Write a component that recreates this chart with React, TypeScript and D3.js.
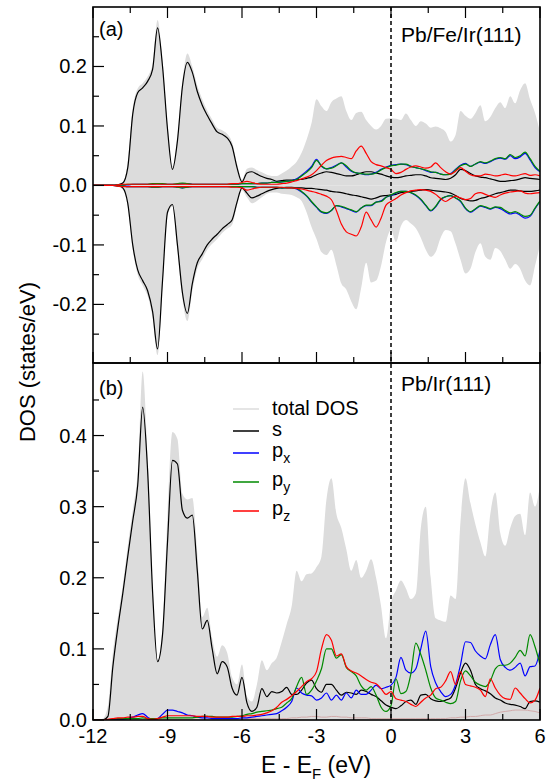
import React, { useEffect, useRef } from 'react';
import * as d3 from 'd3';

// energy grid (eV), 0.2 eV steps from -12 to 6
const energy = d3.range(91).map(i => -12 + 0.2 * i);

// ---- panel (a) Pb/Fe/Ir(111): spin up (positive) / spin down (negative)
const totUpA = [0,0,0,0,0, 0.002,0.006,0.04,0.13,0.163, 0.172,0.183,0.205,0.278,0.21, 0.102,0.032,0.082,0.175,0.222,
  0.2,0.168,0.145,0.126,0.111, 0.097,0.093,0.087,0.073,0.037, 0.01,0.028,0.03,0.026,0.022, 0.018,0.016,0.016,0.02,0.025,
  0.032,0.04,0.055,0.077,0.105, 0.145,0.133,0.125,0.14,0.146, 0.15,0.125,0.11,0.122,0.124, 0.11,0.1,0.094,0.1,0.112,
  0.113,0.112,0.11,0.121,0.11, 0.1,0.108,0.104,0.097,0.099, 0.096,0.09,0.074,0.085,0.125, 0.117,0.112,0.122,0.135,0.108,
  0.115,0.13,0.14,0.13,0.15, 0.138,0.16,0.172,0.145,0.122, 0.09];
const totDnA = [0,0,0,0,0, -0.002,-0.007,-0.036,-0.108,-0.15, -0.168,-0.186,-0.222,-0.285,-0.168, -0.05,-0.036,-0.108,-0.19,-0.228,
  -0.177,-0.14,-0.124,-0.108,-0.098, -0.09,-0.08,-0.073,-0.066,-0.034, -0.008,-0.02,-0.03,-0.026,-0.02, -0.014,-0.012,-0.012,-0.014,-0.015,
  -0.016,-0.02,-0.026,-0.045,-0.07, -0.09,-0.112,-0.117,-0.108,-0.134, -0.165,-0.175,-0.195,-0.208,-0.172, -0.13,-0.163,-0.16,-0.135,-0.095,
  -0.075,-0.095,-0.068,-0.058,-0.064, -0.072,-0.088,-0.108,-0.12,-0.112, -0.088,-0.075,-0.077,-0.098,-0.125, -0.148,-0.14,-0.112,-0.097,-0.12,
  -0.125,-0.105,-0.11,-0.125,-0.14, -0.132,-0.14,-0.16,-0.168,-0.135, -0.1];
const sUpA = [0,0,0,0,0, 0.001,0.004,0.03,0.12,0.156, 0.164,0.175,0.195,0.265,0.2, 0.095,0.027,0.075,0.166,0.207,
  0.19,0.158,0.135,0.118,0.103, 0.09,0.086,0.08,0.066,0.03, 0.006,0.021,0.023,0.019,0.015, 0.012,0.01,0.007,0.008,0.009,
  0.009,0.01,0.01,0.012,0.014, 0.018,0.021,0.023,0.022,0.02, 0.018,0.016,0.016,0.018,0.021, 0.023,0.023,0.021,0.019,0.016,
  0.014,0.013,0.014,0.016,0.017, 0.018,0.018,0.016,0.013,0.012, 0.011,0.01,0.012,0.018,0.027, 0.025,0.02,0.016,0.014,0.013,
  0.011,0.009,0.007,0.007,0.008, 0.009,0.011,0.013,0.012,0.011, 0.01];
const sDnA = [0,0,0,0,0, 0,-0.004,-0.03,-0.1,-0.142, -0.16,-0.177,-0.212,-0.275,-0.16, -0.045,-0.032,-0.1,-0.18,-0.215,
  -0.165,-0.13,-0.115,-0.1,-0.09, -0.082,-0.073,-0.066,-0.058,-0.028, -0.004,-0.013,-0.021,-0.018,-0.014, -0.01,-0.007,-0.005,-0.004,-0.003,
  -0.003,-0.004,-0.004,-0.005,-0.005, -0.006,-0.007,-0.008,-0.01,-0.011, -0.012,-0.014,-0.016,-0.017,-0.019, -0.021,-0.023,-0.021,-0.018,-0.017,
  -0.016,-0.015,-0.012,-0.011,-0.01, -0.009,-0.008,-0.007,-0.008,-0.009, -0.01,-0.011,-0.013,-0.017,-0.022, -0.024,-0.026,-0.025,-0.022,-0.02,
  -0.017,-0.014,-0.012,-0.01,-0.008, -0.008,-0.009,-0.01,-0.01,-0.009, -0.008];
const pxUpA = [0,0,0,0,0, 0.001,0.001,0.001,0.002,0.002, 0.002,0.002,0.002,0.003,0.002, 0.002,0.002,0.002,0.003,0.003,
  0.002,0.002,0.002,0.002,0.002, 0.002,0.002,0.002,0.002,0.002, 0.003,0.003,0.003,0.003,0.004, 0.004,0.005,0.005,0.006,0.007,
  0.008,0.011,0.017,0.024,0.032, 0.044,0.032,0.028,0.03,0.034, 0.038,0.031,0.024,0.021,0.02, 0.018,0.019,0.022,0.027,0.031,
  0.034,0.035,0.036,0.035,0.032, 0.03,0.028,0.025,0.022,0.022, 0.019,0.018,0.02,0.027,0.034, 0.037,0.032,0.036,0.039,0.037,
  0.04,0.044,0.046,0.044,0.05, 0.045,0.048,0.054,0.043,0.03, 0.023];
const pyUpA = [0,0,0,0,0, 0.001,0.001,0.002,0.002,0.002, 0.002,0.002,0.003,0.003,0.003, 0.002,0.002,0.003,0.004,0.003,
  0.002,0.002,0.002,0.002,0.002, 0.002,0.002,0.002,0.002,0.002, 0.003,0.003,0.003,0.003,0.004, 0.004,0.005,0.005,0.006,0.007,
  0.008,0.01,0.016,0.022,0.03, 0.042,0.033,0.028,0.029,0.033, 0.038,0.033,0.025,0.021,0.02, 0.019,0.019,0.021,0.026,0.03,
  0.033,0.034,0.036,0.036,0.032, 0.03,0.028,0.026,0.023,0.022, 0.019,0.018,0.019,0.026,0.033, 0.036,0.032,0.036,0.04,0.038,
  0.041,0.045,0.047,0.045,0.052, 0.047,0.05,0.056,0.045,0.032, 0.024];
const pzUpA = [0,0,0,0,0, 0.001,0.002,0.002,0.002,0.002, 0.002,0.002,0.002,0.002,0.002, 0.002,0.002,0.002,0.002,0.002,
  0.002,0.002,0.002,0.002,0.002, 0.002,0.002,0.002,0.003,0.003, 0.005,0.007,0.005,0.003,0.002, 0.002,0.002,0.002,0.003,0.004,
  0.006,0.008,0.011,0.014,0.018, 0.025,0.034,0.042,0.046,0.048, 0.049,0.047,0.045,0.058,0.066, 0.054,0.04,0.035,0.033,0.03,
  0.027,0.02,0.022,0.027,0.031, 0.033,0.031,0.029,0.031,0.038, 0.03,0.023,0.019,0.024,0.03, 0.024,0.018,0.016,0.016,0.019,
  0.018,0.016,0.017,0.019,0.017, 0.016,0.018,0.02,0.017,0.018, 0.016];
const pxDnA = [0,0,0,0,0, -0.001,-0.001,-0.002,-0.002,-0.002, -0.002,-0.002,-0.003,-0.003,-0.002, -0.002,-0.002,-0.003,-0.004,-0.003,
  -0.002,-0.002,-0.002,-0.002,-0.002, -0.002,-0.002,-0.002,-0.002,-0.002, -0.002,-0.002,-0.002,-0.003,-0.003, -0.003,-0.003,-0.003,-0.004,-0.004,
  -0.004,-0.006,-0.011,-0.018,-0.028, -0.037,-0.045,-0.047,-0.042,-0.034, -0.036,-0.039,-0.042,-0.045,-0.038, -0.034,-0.034,-0.028,-0.026,-0.02,
  -0.017,-0.013,-0.01,-0.01,-0.012, -0.017,-0.024,-0.034,-0.043,-0.036, -0.024,-0.019,-0.017,-0.021,-0.027, -0.039,-0.045,-0.04,-0.035,-0.037,
  -0.04,-0.037,-0.039,-0.044,-0.048, -0.046,-0.05,-0.055,-0.052,-0.039, -0.027];
const pyDnA = [0,0,0,0,0, -0.001,-0.001,-0.002,-0.002,-0.002, -0.002,-0.002,-0.003,-0.003,-0.002, -0.002,-0.002,-0.003,-0.004,-0.003,
  -0.002,-0.002,-0.002,-0.002,-0.002, -0.002,-0.002,-0.002,-0.002,-0.002, -0.002,-0.002,-0.002,-0.003,-0.003, -0.003,-0.003,-0.003,-0.004,-0.004,
  -0.004,-0.005,-0.01,-0.017,-0.027, -0.036,-0.044,-0.046,-0.042,-0.034, -0.035,-0.038,-0.041,-0.044,-0.038, -0.033,-0.033,-0.028,-0.027,-0.02,
  -0.016,-0.012,-0.01,-0.01,-0.012, -0.016,-0.023,-0.033,-0.042,-0.035, -0.023,-0.019,-0.017,-0.021,-0.026, -0.038,-0.044,-0.039,-0.034,-0.036,
  -0.039,-0.036,-0.037,-0.042,-0.046, -0.044,-0.048,-0.052,-0.05,-0.038, -0.026];
const pzDnA = [0,0,0,0,0, -0.001,-0.002,-0.002,-0.002,-0.002, -0.002,-0.002,-0.002,-0.002,-0.002, -0.002,-0.002,-0.002,-0.002,-0.002,
  -0.002,-0.002,-0.002,-0.002,-0.002, -0.002,-0.002,-0.002,-0.003,-0.003, -0.004,-0.008,-0.006,-0.004,-0.003, -0.003,-0.003,-0.003,-0.003,-0.004,
  -0.004,-0.005,-0.006,-0.008,-0.01, -0.012,-0.015,-0.018,-0.024,-0.042, -0.065,-0.078,-0.082,-0.085,-0.07, -0.045,-0.058,-0.07,-0.055,-0.033,
  -0.027,-0.022,-0.016,-0.012,-0.009, -0.008,-0.007,-0.008,-0.01,-0.015, -0.022,-0.027,-0.022,-0.018,-0.021, -0.024,-0.022,-0.014,-0.012,-0.015,
  -0.018,-0.02,-0.016,-0.013,-0.011, -0.01,-0.009,-0.013,-0.014,-0.013, -0.012];

// ---- panel (b) Pb/Ir(111)
const totB = [0,0,0.002,0.02,0.095, 0.145,0.19,0.245,0.295,0.35, 0.49,0.37,0.19,0.085,0.13, 0.29,0.405,0.395,0.318,0.31,
  0.312,0.235,0.145,0.158,0.115, 0.089,0.105,0.095,0.06,0.05, 0.078,0.033,0.026,0.05,0.084, 0.07,0.08,0.088,0.11,0.135,
  0.16,0.21,0.195,0.205,0.206, 0.215,0.23,0.31,0.34,0.29, 0.27,0.24,0.21,0.225,0.2, 0.21,0.226,0.2,0.16,0.115,
  0.165,0.182,0.196,0.185,0.17, 0.178,0.27,0.3,0.2,0.143, 0.14,0.138,0.175,0.17,0.28, 0.34,0.305,0.275,0.25,0.23,
  0.29,0.32,0.263,0.245,0.27, 0.287,0.29,0.26,0.32,0.3, 0.33];
const sB = [0,0,0,0.005,0.075, 0.13,0.178,0.23,0.28,0.33, 0.44,0.35,0.18,0.082,0.12, 0.25,0.365,0.36,0.295,0.284,
  0.288,0.21,0.128,0.14,0.1, 0.065,0.082,0.075,0.045,0.035, 0.06,0.024,0.012,0.018,0.044, 0.033,0.04,0.038,0.04,0.046,
  0.036,0.036,0.042,0.052,0.056, 0.044,0.039,0.05,0.05,0.042, 0.035,0.039,0.038,0.036,0.042, 0.04,0.036,0.033,0.027,0.021,
  0.018,0.016,0.02,0.026,0.028, 0.022,0.035,0.036,0.03,0.027, 0.026,0.028,0.031,0.045,0.066, 0.08,0.07,0.05,0.044,0.041,
  0.037,0.031,0.028,0.024,0.022, 0.021,0.019,0.016,0.026,0.027, 0.025];
const pxB = [0,0,0,0,0.001, 0.001,0.001,0.002,0.004,0.007, 0.009,0.004,0.001,0.002,0.008, 0.014,0.014,0.012,0.01,0.007,
  0.006,0.004,0.003,0.003,0.002, 0.002,0.002,0.002,0.002,0.002, 0.003,0.003,0.004,0.005,0.006, 0.007,0.008,0.009,0.013,0.018,
  0.026,0.045,0.038,0.035,0.034, 0.028,0.031,0.038,0.028,0.035, 0.028,0.038,0.031,0.042,0.036, 0.036,0.042,0.049,0.044,0.046,
  0.049,0.06,0.088,0.07,0.066, 0.072,0.1,0.125,0.075,0.052, 0.04,0.033,0.036,0.05,0.078, 0.11,0.109,0.097,0.09,0.086,
  0.106,0.12,0.085,0.074,0.07, 0.074,0.08,0.062,0.075,0.076, 0.098];
const pyB = [0,0,0,0,0.001, 0.002,0.002,0.002,0.002,0.002, 0.003,0.002,0.002,0.002,0.003, 0.003,0.003,0.003,0.003,0.003,
  0.003,0.004,0.005,0.005,0.005, 0.004,0.004,0.004,0.004,0.005, 0.006,0.008,0.009,0.011,0.012, 0.013,0.014,0.016,0.018,0.024,
  0.03,0.047,0.06,0.036,0.042, 0.055,0.072,0.1,0.1,0.087, 0.092,0.074,0.068,0.062,0.048, 0.042,0.047,0.035,0.018,0.012,
  0.02,0.058,0.037,0.04,0.065, 0.108,0.092,0.07,0.045,0.031, 0.028,0.025,0.023,0.026,0.055, 0.069,0.062,0.053,0.049,0.047,
  0.055,0.072,0.077,0.077,0.08, 0.088,0.098,0.09,0.12,0.103, 0.078];
const pzB = [0,0,0,0.001,0.002, 0.003,0.003,0.004,0.004,0.005, 0.005,0.002,0.001,0.002,0.004, 0.006,0.006,0.006,0.006,0.006,
  0.006,0.005,0.005,0.005,0.004, 0.004,0.004,0.004,0.005,0.005, 0.005,0.006,0.006,0.007,0.008, 0.01,0.013,0.018,0.025,0.029,
  0.034,0.04,0.047,0.054,0.058, 0.068,0.1,0.12,0.112,0.09, 0.093,0.075,0.069,0.066,0.062, 0.057,0.053,0.051,0.044,0.036,
  0.04,0.03,0.028,0.026,0.022, 0.019,0.025,0.031,0.035,0.044, 0.046,0.055,0.068,0.05,0.068, 0.05,0.048,0.046,0.042,0.033,
  0.058,0.045,0.035,0.03,0.029, 0.045,0.038,0.03,0.024,0.028, 0.045];
const faintB = [0,0,0,0,0, 0,0,0,0,0, 0.001,0.001,0.001,0.001,0.001, 0.001,0.001,0.001,0.001,0.001,
  0.001,0.001,0.001,0.001,0.001, 0.001,0.001,0.001,0.001,0.001, 0.002,0.002,0.002,0.002,0.002, 0.002,0.002,0.002,0.002,0.002,
  0.003,0.003,0.004,0.004,0.005, 0.005,0.004,0.004,0.005,0.005, 0.004,0.004,0.003,0.003,0.003, 0.003,0.002,0.002,0.002,0.002,
  0.002,0.002,0.002,0.002,0.002, 0.002,0.002,0.002,0.002,0.002, 0.002,0.002,0.003,0.003,0.004, 0.004,0.005,0.005,0.006,0.007,
  0.007,0.009,0.011,0.012,0.013, 0.014,0.014,0.014,0.013,0.012, 0.01];

// ticks
const xMajor = [-12, -9, -6, -3, 0, 3, 6];
const xMajorLabels = ['-12', '-9', '-6', '-3', '0', '3', '6'];
const xMinor = [-10.5, -7.5, -4.5, -1.5, 1.5, 4.5];
const yMajorA = [-0.2, -0.1, 0, 0.1, 0.2];
const yMajorALabels = ['-0.2', '-0.1', '0.0', '0.1', '0.2'];
const yMinorA = [-0.25, -0.15, -0.05, 0.05, 0.15, 0.25];
const yMajorB = [0, 0.1, 0.2, 0.3, 0.4];
const yMajorBLabels = ['0.0', '0.1', '0.2', '0.3', '0.4'];
const yMinorB = [0.05, 0.15, 0.25, 0.35, 0.45];

const legendNames = ['total DOS', 's', 'p', 'p', 'p'];
const legendSubs = ['', '', 'x', 'y', 'z'];

const FONT = '"Liberation Sans", Arial, Helvetica, sans-serif';
const GRAY = '#dcdcdc';
const COLORS = { s: '#000000', px: '#0000ff', py: '#008a00', pz: '#ff0000', faint: '#d2aaaa' };

export default function App() {
  const ref = useRef<SVGSVGElement>(null);

  useEffect(() => {
    const svg = d3.select(ref.current);
    svg.selectAll('*').remove();

    const left = 93, right = 540, top = 7, mid = 363, bottom = 720;
    const x = d3.scaleLinear().domain([-12, 6]).range([left, right]);
    const yA = d3.scaleLinear().domain([-0.2985, 0.3]).range([mid, top]);
    const yB = d3.scaleLinear().domain([0, 0.502]).range([bottom, mid]);

    const defs = svg.append('defs');
    defs.append('clipPath').attr('id', 'clipA').append('rect')
      .attr('x', left).attr('y', top).attr('width', right - left).attr('height', mid - top);
    defs.append('clipPath').attr('id', 'clipB').append('rect')
      .attr('x', left).attr('y', mid).attr('width', right - left).attr('height', bottom - mid);

    svg.append('rect').attr('width', 551).attr('height', 781).attr('fill', '#fff');

    const drawArea = (g, y, vals) => {
      const area = d3.area<number>()
        .x((d, i) => x(energy[i]))
        .y0(y(0))
        .y1(d => y(d))
        .curve(d3.curveMonotoneX);
      g.append('path').attr('d', area(vals)).attr('fill', GRAY).attr('stroke', 'none');
    };
    const drawLine = (g, y, vals, color, w = 1.2) => {
      const line = d3.line<number>()
        .x((d, i) => x(energy[i]))
        .y(d => y(d))
        .curve(d3.curveMonotoneX);
      g.append('path').attr('d', line(vals)).attr('fill', 'none')
        .attr('stroke', color).attr('stroke-width', w).attr('stroke-linejoin', 'round');
    };

    // panel (a)
    const gA = svg.append('g').attr('clip-path', 'url(#clipA)');
    drawArea(gA, yA, totUpA);
    drawArea(gA, yA, totDnA);
    drawLine(gA, yA, sUpA, COLORS.s);
    drawLine(gA, yA, sDnA, COLORS.s);
    drawLine(gA, yA, pxUpA, COLORS.px);
    drawLine(gA, yA, pxDnA, COLORS.px);
    drawLine(gA, yA, pyUpA, COLORS.py);
    drawLine(gA, yA, pyDnA, COLORS.py);
    drawLine(gA, yA, pzUpA, COLORS.pz);
    drawLine(gA, yA, pzDnA, COLORS.pz);

    // panel (b)
    const gB = svg.append('g').attr('clip-path', 'url(#clipB)');
    drawArea(gB, yB, totB);
    drawLine(gB, yB, faintB, COLORS.faint, 1);
    drawLine(gB, yB, sB, COLORS.s);
    drawLine(gB, yB, pxB, COLORS.px);
    drawLine(gB, yB, pyB, COLORS.py);
    drawLine(gB, yB, pzB, COLORS.pz);

    // Fermi level
    svg.append('line').attr('x1', x(0)).attr('x2', x(0)).attr('y1', top).attr('y2', bottom)
      .attr('stroke', '#000').attr('stroke-width', 1.5).attr('stroke-dasharray', '4,3');

    // ticks
    const ticks = svg.append('g').attr('stroke', '#000').attr('stroke-width', 1.2);
    const xt = (v, len) => {
      ticks.append('line').attr('x1', x(v)).attr('x2', x(v)).attr('y1', top).attr('y2', top + len);
      ticks.append('line').attr('x1', x(v)).attr('x2', x(v)).attr('y1', mid).attr('y2', mid - len);
      ticks.append('line').attr('x1', x(v)).attr('x2', x(v)).attr('y1', bottom).attr('y2', bottom - len);
    };
    xMajor.forEach(v => xt(v, 11));
    xMinor.forEach(v => xt(v, 6));
    const yt = (y, v, len) => {
      ticks.append('line').attr('x1', left).attr('x2', left + len).attr('y1', y(v)).attr('y2', y(v));
    };
    yMajorA.forEach(v => yt(yA, v, 11));
    yMinorA.forEach(v => yt(yA, v, 6));
    yMajorB.forEach(v => yt(yB, v, 11));
    yMinorB.forEach(v => yt(yB, v, 6));

    // frames
    svg.append('rect').attr('x', left).attr('y', top).attr('width', right - left).attr('height', mid - top)
      .attr('fill', 'none').attr('stroke', '#000').attr('stroke-width', 1.6);
    svg.append('rect').attr('x', left).attr('y', mid).attr('width', right - left).attr('height', bottom - mid)
      .attr('fill', 'none').attr('stroke', '#000').attr('stroke-width', 1.6);

    const txt = svg.append('g').attr('font-family', FONT).attr('fill', '#000');

    // tick labels
    yMajorA.forEach((v, i) => {
      txt.append('text').attr('x', left - 6).attr('y', yA(v) + 7).attr('text-anchor', 'end')
        .attr('font-size', 20).text(yMajorALabels[i]);
    });
    yMajorB.forEach((v, i) => {
      txt.append('text').attr('x', left - 6).attr('y', yB(v) + 7).attr('text-anchor', 'end')
        .attr('font-size', 20).text(yMajorBLabels[i]);
    });
    xMajor.forEach((v, i) => {
      txt.append('text').attr('x', x(v)).attr('y', 743).attr('text-anchor', 'middle')
        .attr('font-size', 20).text(xMajorLabels[i]);
    });

    // axis titles
    txt.append('text').attr('transform', 'translate(35,362) rotate(-90)')
      .attr('text-anchor', 'middle').attr('font-size', 22).text('DOS (states/eV)');
    const xl = txt.append('text').attr('x', 316).attr('y', 773).attr('text-anchor', 'middle').attr('font-size', 23);
    xl.append('tspan').text('E - E');
    xl.append('tspan').attr('font-size', 15).attr('dy', 6).text('F');
    xl.append('tspan').attr('dy', -6).text(' (eV)');

    // panel labels
    txt.append('text').attr('x', 99).attr('y', 36).attr('font-size', 20).text('(a)');
    txt.append('text').attr('x', 99).attr('y', 395).attr('font-size', 20).text('(b)');
    txt.append('text').attr('x', 401).attr('y', 42).attr('font-size', 21).text('Pb/Fe/Ir(111)');
    txt.append('text').attr('x', 401).attr('y', 391).attr('font-size', 21).text('Pb/Ir(111)');

    // legend
    const legColors = [GRAY, COLORS.s, COLORS.px, COLORS.py, COLORS.pz];
    const legLineY = [409, 431, 453, 482, 511];
    const legTextY = [415, 436, 457, 486, 515];
    legendNames.forEach((name, i) => {
      svg.append('line').attr('x1', 233).attr('x2', 259).attr('y1', legLineY[i]).attr('y2', legLineY[i])
        .attr('stroke', legColors[i]).attr('stroke-width', 1.5);
      const t = txt.append('text').attr('x', 272).attr('y', legTextY[i]).attr('font-size', 20);
      t.append('tspan').text(name);
      if (legendSubs[i]) t.append('tspan').attr('font-size', 14).attr('dy', 6).text(legendSubs[i]);
    });
  }, []);

  return (
    <svg ref={ref} width={551} height={781}
      style={{ position: 'absolute', left: 0, top: 0, display: 'block' }} />
  );
}
